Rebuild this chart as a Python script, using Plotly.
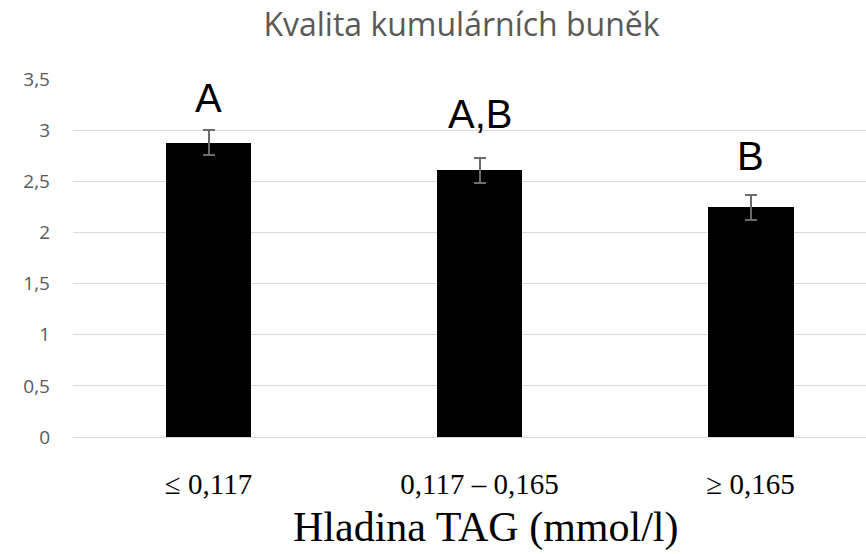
import plotly.graph_objects as go

categories = ["≤ 0,117", "0,117 – 0,165", "≥ 0,165"]
values = [2.875, 2.607, 2.245]
errors = [0.122, 0.124, 0.125]
letters = ["A", "A,B", "B"]
letter_y = [3.314, 3.153, 2.752]
y_ticks = [0, 0.5, 1, 1.5, 2, 2.5, 3, 3.5]
y_tick_labels = ["0", "0,5", "1", "1,5", "2", "2,5", "3", "3,5"]

fig = go.Figure()
fig.add_trace(go.Bar(
    x=categories, y=values, width=0.317,
    marker=dict(color="#000000", line=dict(width=0)),
    error_y=dict(type="data", array=errors, visible=True,
                 color="#6b6b6b", thickness=2, width=6),
    showlegend=False,
))

for c, t, ly in zip(categories, letters, letter_y):
    fig.add_annotation(x=c, y=ly, text=t, showarrow=False,
                       xref="x", yref="y", yanchor="middle",
                       font=dict(family="Liberation Sans", size=40, color="#000000"))

fig.add_annotation(x=(485 - 73) / 793, y=(437 - 553) / 358, xref="paper", yref="paper",
                   text="Hladina TAG (mmol/l)", showarrow=False, yanchor="bottom",
                   font=dict(family="Liberation Serif", size=42, color="#000000"))

fig.update_layout(
    width=866, height=554,
    margin=dict(l=73, r=0, t=79, b=117),
    paper_bgcolor="white", plot_bgcolor="white",
    title=dict(text="Kvalita kumulárních buněk", x=461.5 / 866, xref="container",
               xanchor="center", y=1 - 25 / 554, yref="container", yanchor="middle",
               font=dict(family="Open Sans", size=32, color="#595959")),
    xaxis=dict(type="category", range=[-0.5, 2.426], showgrid=False, showline=False,
               zeroline=False, ticks="", ticklabelstandoff=27,
               tickfont=dict(family="Liberation Serif", size=29, color="#000000")),
    yaxis=dict(range=[0, 3.5], tickvals=y_ticks, ticktext=y_tick_labels,
               showgrid=True, gridcolor="#d9d9d9", gridwidth=1,
               zeroline=True, zerolinecolor="#d9d9d9", zerolinewidth=1,
               showline=False, ticks="", ticklabelstandoff=22,
               tickfont=dict(family="Open Sans", size=19, color="#595959")),
    bargap=0,
)

fig.write_html("out.html", config={"displayModeBar": False},
               post_script="document.body.style.margin='0';")
